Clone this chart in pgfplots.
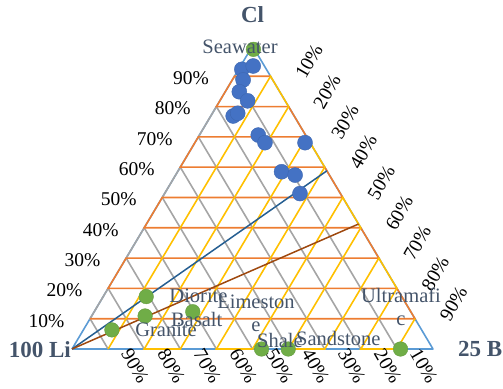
\documentclass[border=0pt]{standalone}
\usepackage{pgfplots}
\pgfplotsset{compat=1.18}
\usepackage{pgfplotstable}
\usepackage{fontspec}
\setmainfont{Liberation Serif}

\definecolor{frameblue}{HTML}{5B9BD5}
\definecolor{gridorange}{HTML}{ED7D31}
\definecolor{gridgray}{HTML}{A5A5A5}
\definecolor{gridgold}{HTML}{FFC000}
\definecolor{ptblue}{HTML}{4472C4}
\definecolor{ptgreen}{HTML}{70AD47}
\definecolor{ratioblue}{HTML}{255E91}
\definecolor{ratiobrown}{HTML}{9E480E}
\definecolor{labelslate}{HTML}{44546A}

% Compositions in percent: Li, B, Cl (Li = 100 - B - Cl)
\pgfplotstableread{
B   Cl
0   0
100 0
0   100
0   0
}\frame

% Cl = const grid, zig-zagging between the two side edges
\pgfplotstableread{
B  Cl
0  10
90 10
80 20
0  20
0  30
70 30
60 40
0  40
0  50
50 50
40 60
0  60
0  70
30 70
20 80
0  80
0  90
10 90
}\gridcl

% Li = const grid, zig-zagging between the left edge and the base
\pgfplotstableread{
B  Cl
10 0
0  10
0  20
20 0
30 0
0  30
0  40
40 0
50 0
0  50
0  60
60 0
70 0
0  70
0  80
80 0
90 0
0  90
}\gridli

% B = const grid, zig-zagging between the base and the right edge
\pgfplotstableread{
B  Cl
10 0
10 90
20 80
20 0
30 0
30 70
40 60
40 0
50 0
50 50
60 40
60 0
70 0
70 30
80 20
80 0
90 0
90 10
}\gridb

% Reference ratio lines from the Li corner
\pgfplotstableread{
B     Cl
0     0
41.2  58.8
}\lineone
\pgfplotstableread{
B     Cl
0     0
58.75 41.25
}\linetwo

% Water samples
\pgfplotstableread{
B    Cl
0.9  92.3
3.5  93.4
3.0  88.8
3.9  84.9
7.7  81.9
6.2  76.9
7.0  77.8
16.3 70.6
19.4 68.1
30.5 68.1
28.8 58.5
33.1 57.4
37.5 51.3
}\waters

% Reference rocks and seawater
\pgfplotstableread{
B    Cl
0.8  98.9
11.9 17.3
14.8 10.9
7.9  6.3
27.3 12.3
52.5 0
59.9 0
91.0 0
}\rocks

\newcommand{\tickfont}{\fontsize{19.5}{22}\selectfont}
\newcommand{\namefont}{\fontsize{20.5}{23}\selectfont}

\begin{document}
\begin{tikzpicture}
\useasboundingbox (-72pt,-39pt) rectangle (431pt,349pt);
\begin{axis}[
  at={(0,0)}, anchor=south west,
  scale only axis, width=361pt, height=303pt,
  xmin=0, xmax=1, ymin=0, ymax=1,
  hide axis, clip=false,
  table/x expr={\thisrow{B}/100+\thisrow{Cl}/200},
  table/y expr={\thisrow{Cl}/100},
]
\addplot[frameblue, line width=1.6pt, no marks, line join=round] table {\frame};
\addplot[gridgray, line width=1.6pt, no marks] table {\gridli};
\addplot[gridorange, line width=1.6pt, no marks] table {\gridcl};
\addplot[gridgold, line width=1.6pt, no marks] table {\gridb};
\addplot[ratioblue, line width=1.5pt, no marks] table {\lineone};
\addplot[ratiobrown, line width=1.5pt, no marks] table {\linetwo};

\addplot[only marks, mark=*, mark size=7.5pt, mark options={fill=ptblue, draw=ptblue!90!black}] table {\waters};
\addplot[only marks, mark=*, mark size=7.3pt, mark options={fill=ptgreen, draw=ptgreen!90!black}] table {\rocks};

% Cl axis (left edge)
\pgfplotsinvokeforeach{10,20,30,40,50,60,70,80,90}{
  \node[anchor=east, font=\tickfont, inner sep=0pt, xshift=-25.5pt, yshift=-2pt]
    at (axis cs:{#1/200},{#1/100}) {#1\%};
}
% B axis (right edge)
\pgfplotsinvokeforeach{10,20,30,40,50,60,70,80,90}{
  \node[font=\tickfont, inner sep=0pt, rotate=60]
    at ([xshift=38.5pt, yshift=15pt]axis cs:{(50+#1/2)/100},{(100-#1)/100}) {#1\%};
}
% Li axis (base)
\pgfplotsinvokeforeach{10,20,30,40,50,60,70,80,90}{
  \node[font=\tickfont, inner sep=0pt, rotate=-60]
    at ([xshift=27pt, yshift=-17pt]axis cs:{(100-#1)/100},0) {#1\%};
}

% Anchor points for the sample names
\coordinate (nSea) at (axis cs:0.4654,0.9967);
\coordinate (nDio) at (axis cs:0.3504,0.1749);
\coordinate (nBas) at (axis cs:0.3454,0.0974);
\coordinate (nGra) at (axis cs:0.2604,0.0627);
\coordinate (nLim) at (axis cs:0.5097,0.1172);
\coordinate (nSha) at (axis cs:0.5762,0.0297);
\coordinate (nSan) at (axis cs:0.7377,0.0347);
\coordinate (nUlt) at (axis cs:0.9114,0.1386);
\coordinate (cTop) at (axis cs:0.5,1.102);
\coordinate (cLeft) at (axis cs:0,0);
\coordinate (cRight) at (axis cs:1,0);
\end{axis}

% Corner names
\node[font=\fontsize{23}{26}\selectfont\bfseries, text=labelslate, inner sep=0pt]
  at (cTop) {Cl};
\node[font=\fontsize{23}{26}\selectfont\bfseries, text=labelslate, inner sep=0pt, anchor=east]
  at ([xshift=-1pt, yshift=-1pt]cLeft) {100 Li};
\node[font=\fontsize{23}{26}\selectfont\bfseries, text=labelslate, inner sep=0pt, anchor=west]
  at ([xshift=25pt]cRight) {25 B};

% Sample names, set over the markers
\begin{scope}[every node/.style={font=\namefont, text=labelslate, inner sep=0pt, align=center}]
\node at (nSea) {Seawater};
\node at (nDio) {Diorite};
\node at (nBas) {Basalt};
\node at (nGra) {Granite};
\node at (nLim) {Limeston\\e};
\node at (nSha) {Shale};
\node at (nSan) {Sandstone};
\node at (nUlt) {Ultramafi\\c};
\end{scope}
\end{tikzpicture}
\end{document}
